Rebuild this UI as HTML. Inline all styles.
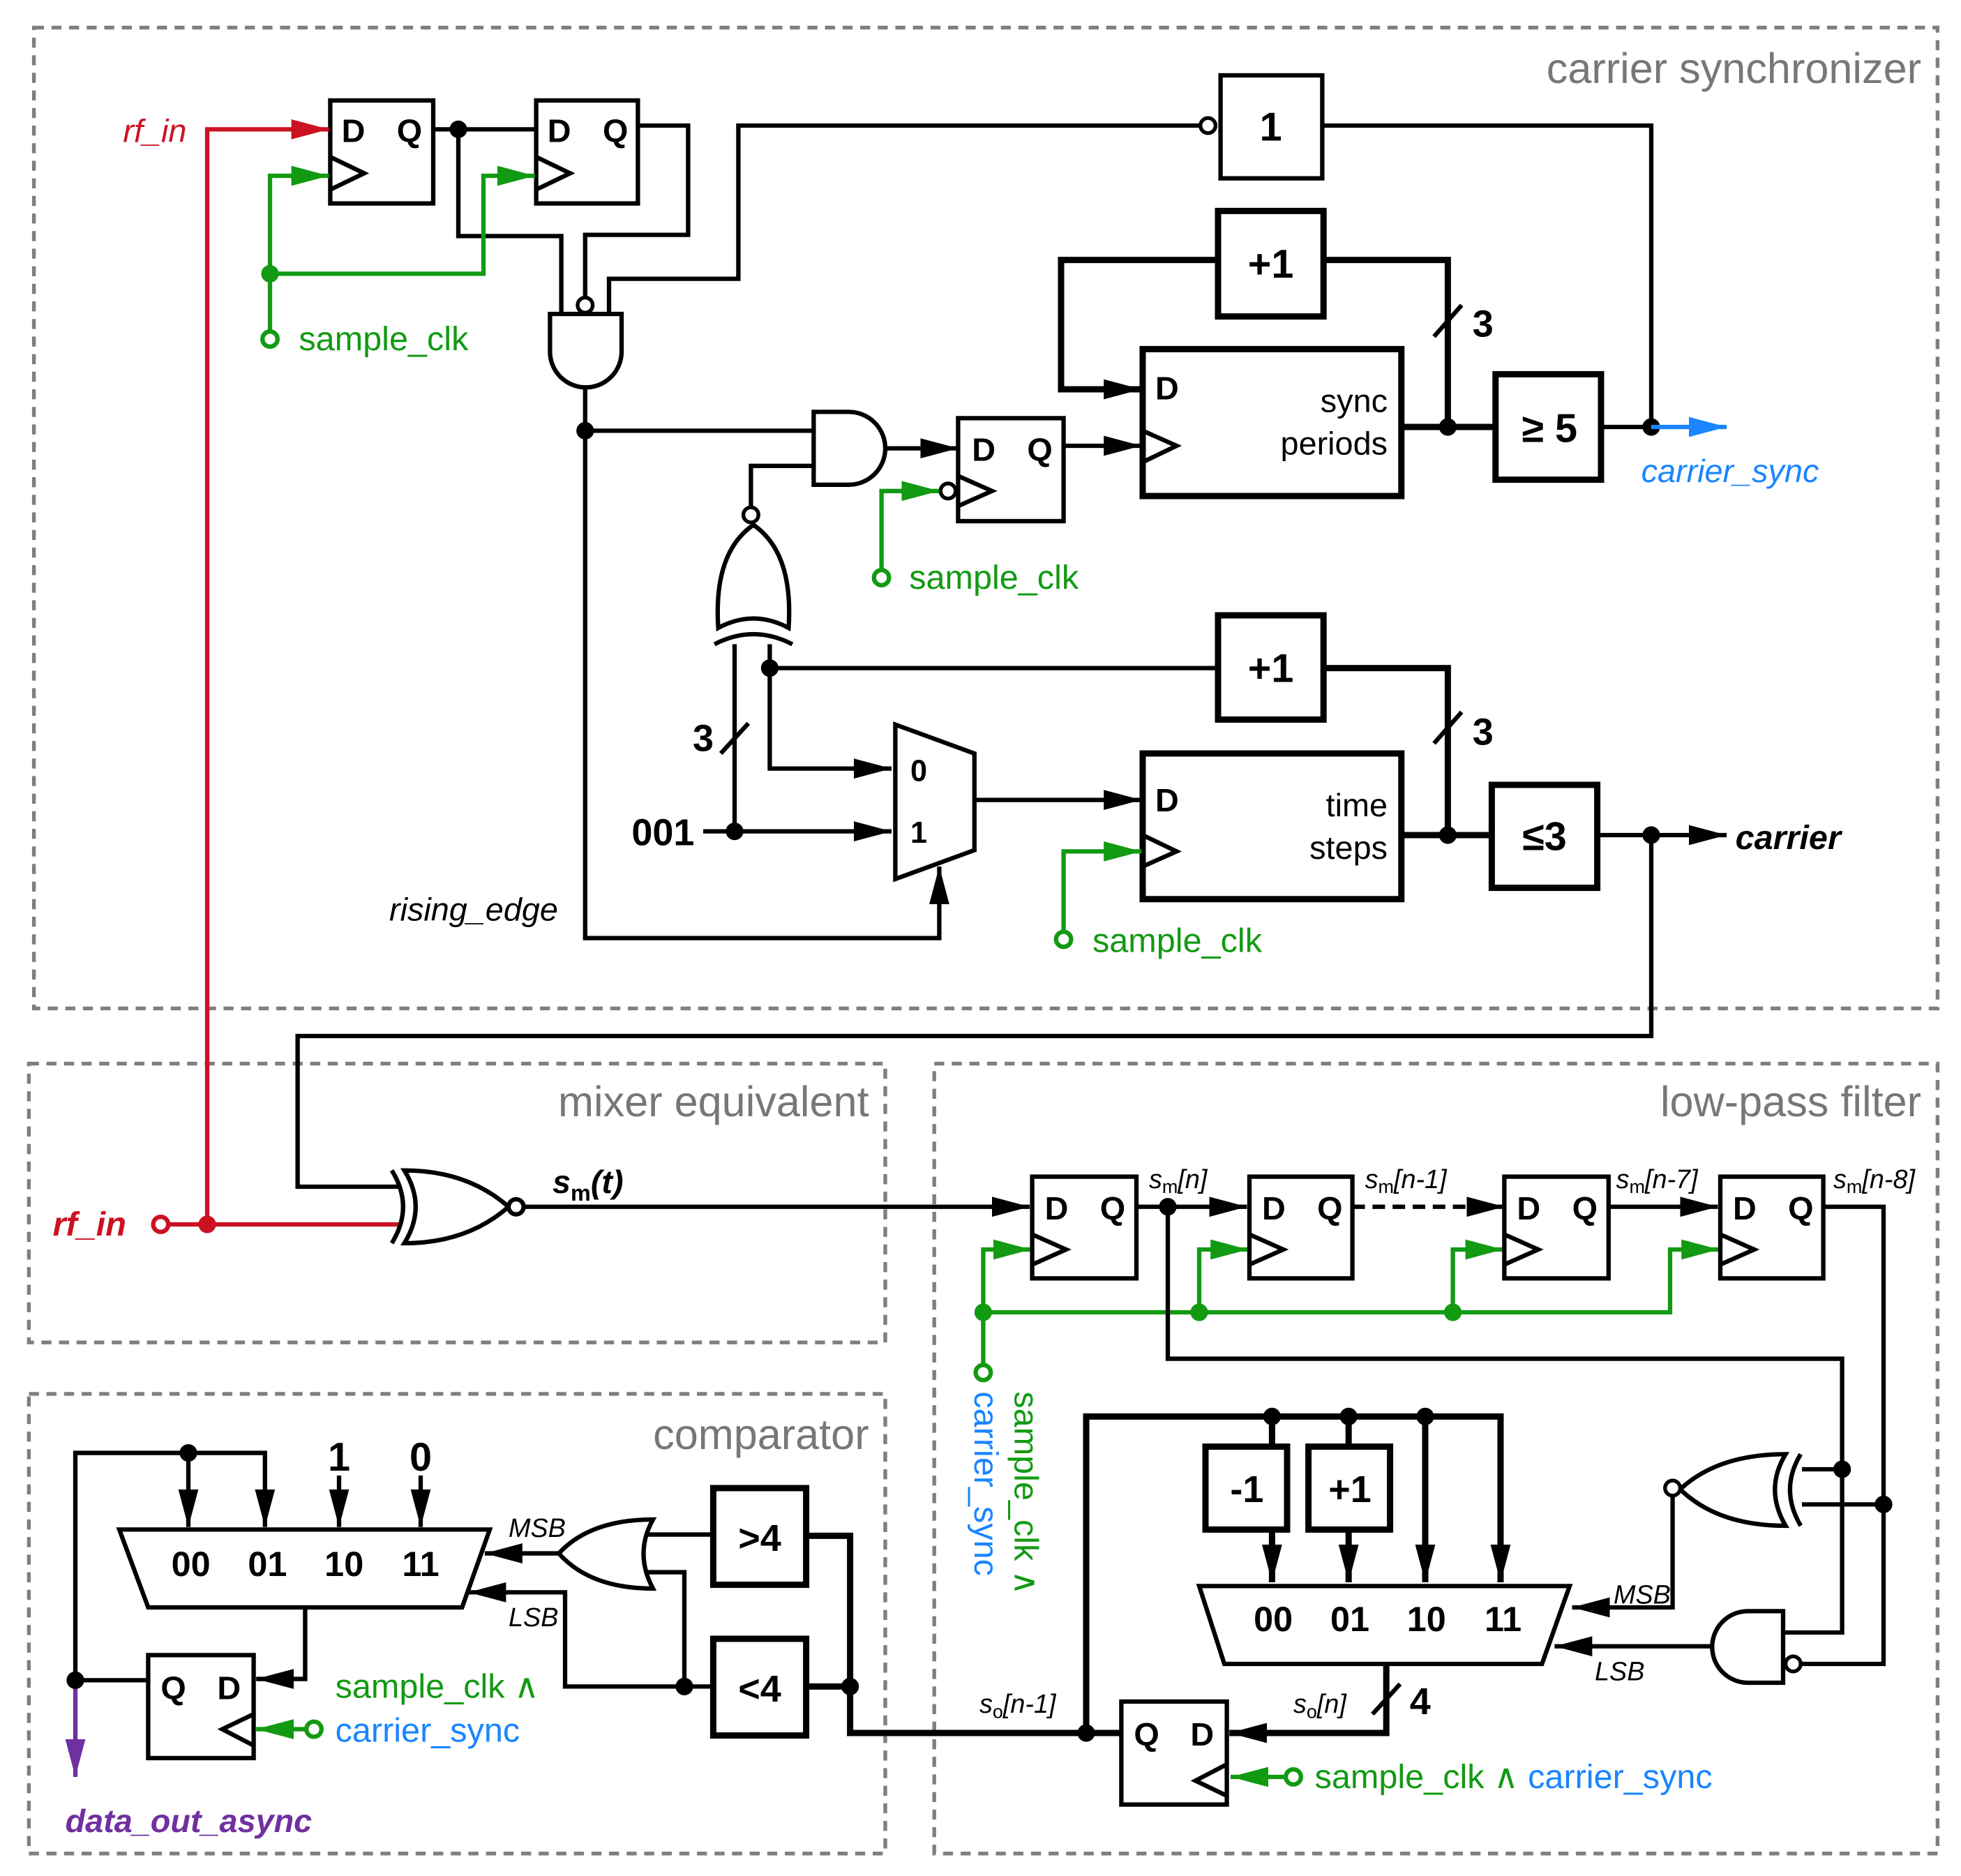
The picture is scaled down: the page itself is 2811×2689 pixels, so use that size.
<!DOCTYPE html>
<html><head><meta charset="utf-8"><style>
html,body{margin:0;padding:0;background:#fff}
svg{display:block}
text{font-family:"Liberation Sans",sans-serif}
</style></head><body>
<svg width="2811" height="2689" viewBox="0 0 1561.67 1493.9" xmlns="http://www.w3.org/2000/svg">
<defs>
<marker id="ar" viewBox="0 0 30 30" refX="30" refY="15" markerWidth="30" markerHeight="30" markerUnits="userSpaceOnUse" orient="auto"><path d="M0,7 L30,15 L0,23 Z" fill="#cc1122"/></marker>
<marker id="ag" viewBox="0 0 30 30" refX="30" refY="15" markerWidth="30" markerHeight="30" markerUnits="userSpaceOnUse" orient="auto"><path d="M0,7 L30,15 L0,23 Z" fill="#129a12"/></marker>
<marker id="ab" viewBox="0 0 30 30" refX="30" refY="15" markerWidth="30" markerHeight="30" markerUnits="userSpaceOnUse" orient="auto"><path d="M0,7 L30,15 L0,23 Z" fill="#1a85ff"/></marker>
<marker id="ap" viewBox="0 0 30 30" refX="30" refY="15" markerWidth="30" markerHeight="30" markerUnits="userSpaceOnUse" orient="auto"><path d="M0,7 L30,15 L0,23 Z" fill="#7030a0"/></marker>
<marker id="a" viewBox="0 0 30 30" refX="30" refY="15" markerWidth="30" markerHeight="30" markerUnits="userSpaceOnUse" orient="auto"><path d="M0,7 L30,15 L0,23 Z" fill="#000"/></marker>
</defs>

<g fill="none" stroke="#7f7f7f" stroke-width="3" stroke-dasharray="8,6">
<rect x="27" y="22" width="1516" height="781"/>
<rect x="23" y="847" width="682" height="222"/>
<rect x="744" y="847" width="799" height="629"/>
<rect x="23" y="1110" width="682" height="366"/>
</g>
<g fill="#777" font-size="34" text-anchor="end">
<text x="1530" y="66">carrier synchronizer</text>
<text x="692" y="889">mixer equivalent</text>
<text x="1530" y="889">low-pass filter</text>
<text x="692" y="1154">comparator</text>
</g>

<g fill="none" stroke="#000" stroke-width="3.5">
<rect x="263" y="80" width="82" height="82"/>
<rect x="427" y="80" width="81" height="82"/>
<path d="M263,125 L290,138 L263,151"/>
<path d="M427,125 L454,138 L427,151"/>
<path d="M345,103 H427"/>
<path d="M365,103 V188 H447 V250"/>
<path d="M508,100 H548 V187 H466 V236"/>
<path d="M485,250 V222 H588 V100 H955"/>
<path d="M438,250 H495 V280 A28.5,28.5 0 0 1 438,280 Z" fill="#fff"/>
<rect x="972" y="60" width="81" height="82"/>
<path d="M1053,100 H1315 V340"/>
<path d="M466,309 V747 H748 V690" marker-end="url(#a)"/>
<path d="M466,343 H648"/>
<path d="M648,328 H676 A29,29 0 0 1 676,386 H648 Z"/>
<path d="M705,357 H763" marker-end="url(#a)"/>
<rect x="763" y="333" width="84" height="82"/>
<path d="M763,379 L790,391 L763,403"/>
<path d="M847,355 H909" marker-end="url(#a)"/>
<path d="M648,371 H598 V403"/>
<path d="M572,500 Q600,485 628,500 Q632,440 600,418 Q568,440 572,500 Z"/>
<path d="M569,513 Q600,497 631,513"/>
</g>
<g fill="none" stroke="#000" stroke-width="5">
<rect x="910" y="278" width="206" height="117"/>
<rect x="970" y="168" width="84" height="84"/>
<path d="M1116,340 H1191"/>
<path d="M1153,340 V207 H1054"/>
<path d="M970,207 H845 V310 H909" marker-end="url(#a)"/>
<rect x="1191" y="298" width="84" height="84"/>
<path d="M1142,268 L1164,243" stroke-width="3.5"/>
<rect x="910" y="600" width="206" height="116"/>
<rect x="970" y="490" width="84" height="83"/>
<path d="M1054,532 H1153 V665"/>
<path d="M1116,665 H1188"/>
<path d="M1142,592 L1164,567" stroke-width="3.5"/>
<rect x="1188" y="625" width="84" height="82"/>
</g>
<g fill="none" stroke="#000" stroke-width="3.5">
<path d="M910,343 L937,355 L910,368"/>
<path d="M910,665 L937,678 L910,690"/>
<path d="M1275,340 H1315"/>
<path d="M1272,665 H1375" marker-end="url(#a)"/>
<path d="M1315,665 V825 H237 V945 H318"/>
<path d="M613,513 V612 H710" marker-end="url(#a)"/>
<path d="M613,532 H970"/>
<path d="M585,513 V662"/>
<path d="M574,600 L596,576"/>
<path d="M560,662 H710" marker-end="url(#a)"/>
<path d="M713,577 L776,600 L776,677 L713,700 Z"/>
<path d="M776,637 H909" marker-end="url(#a)"/>
</g>
<g fill="#fff" stroke="#000" stroke-width="3">
<circle cx="466" cy="243" r="6"/>
<circle cx="962" cy="100" r="6"/>
<circle cx="598" cy="410" r="6"/>
<circle cx="755" cy="391" r="6"/>
</g>
<g fill="#000">
<circle cx="365" cy="103" r="7"/><circle cx="466" cy="343" r="7"/>
<circle cx="1153" cy="340" r="7"/><circle cx="1315" cy="340" r="7"/>
<circle cx="613" cy="532" r="7"/><circle cx="585" cy="662" r="7"/>
<circle cx="1153" cy="665" r="7"/><circle cx="1315" cy="665" r="7"/>
</g>
<g font-size="26" font-weight="bold">
<text x="272" y="113">D</text><text x="316" y="113">Q</text>
<text x="436" y="113">D</text><text x="480" y="113">Q</text>
<text x="774" y="367">D</text><text x="818" y="367">Q</text>
<text x="920" y="318">D</text><text x="920" y="646">D</text>
<text x="725" y="622" font-size="24">0</text><text x="725" y="671" font-size="24">1</text>
</g>
<g font-size="32" font-weight="bold" text-anchor="middle">
<text x="1012" y="112">1</text>
<text x="1012" y="221">+1</text>
<text x="1012" y="543">+1</text>
<text x="1234" y="352">≥ 5</text>
<text x="1230" y="677">≤3</text>
<text x="1181" y="268" font-size="30">3</text>
<text x="1181" y="593" font-size="30">3</text>
<text x="560" y="598" font-size="30">3</text>
<text x="528" y="673" font-size="30">001</text>
</g>
<g font-size="26" text-anchor="end">
<text x="1105" y="328">sync</text><text x="1105" y="362">periods</text>
<text x="1105" y="650">time</text><text x="1105" y="684">steps</text>
</g>
<text x="310" y="733" font-size="26" font-style="italic">rising_edge</text>
<text x="1382" y="676" font-size="27" font-style="italic" font-weight="bold">carrier</text>
<path d="M1315,340 H1375" stroke="#1a85ff" stroke-width="3.5" fill="none" marker-end="url(#ab)"/>
<text x="1307" y="384" font-size="26" font-style="italic" fill="#1a85ff">carrier_sync</text>

<g stroke="#cc1122" stroke-width="3.5" fill="none">
<path d="M165,975 V103 H262" marker-end="url(#ar)"/>
<path d="M134,975 H318"/>
<circle cx="128" cy="975" r="6" fill="#fff"/>
</g>
<circle cx="165" cy="975" r="7" fill="#cc1122"/>
<text x="98" y="113" font-size="26" font-style="italic" fill="#cc1122">rf_in</text>
<text x="42" y="984" font-size="27" font-style="italic" font-weight="bold" fill="#cc1122">rf_in</text>

<g stroke="#129a12" stroke-width="3.5" fill="none">
<path d="M215,264 V140 H262" marker-end="url(#ag)"/>
<path d="M215,218 H385 V140 H426" marker-end="url(#ag)"/>
<circle cx="215" cy="270" r="6" fill="#fff"/>
<path d="M702,454 V391 H748" marker-end="url(#ag)"/>
<circle cx="702" cy="460" r="6" fill="#fff"/>
<path d="M847,742 V678 H909" marker-end="url(#ag)"/>
<circle cx="847" cy="748" r="6" fill="#fff"/>
<path d="M783,1087 V995 H821" marker-end="url(#ag)"/>
<path d="M783,1045 H1330 V995 H1369" marker-end="url(#ag)"/>
<path d="M955,1045 V995 H994" marker-end="url(#ag)"/>
<path d="M1157,1045 V995 H1197" marker-end="url(#ag)"/>
<circle cx="783" cy="1093" r="6" fill="#fff"/>
<path d="M1024,1415 H980" marker-end="url(#ag)"/>
<circle cx="1030" cy="1415" r="6" fill="#fff"/>
<path d="M244,1377 H204" marker-end="url(#ag)"/>
<circle cx="250" cy="1377" r="6" fill="#fff"/>
</g>
<g fill="#129a12">
<circle cx="215" cy="218" r="7"/>
<circle cx="783" cy="1045" r="7"/><circle cx="955" cy="1045" r="7"/><circle cx="1157" cy="1045" r="7"/>
</g>
<g font-size="27" fill="#129a12">
<text x="238" y="279">sample_clk</text>
<text x="724" y="469">sample_clk</text>
<text x="870" y="758">sample_clk</text>
<text x="267" y="1352">sample_clk ∧</text>
<text x="1047" y="1424">sample_clk ∧ <tspan fill="#1a85ff">carrier_sync</tspan></text>
<text x="267" y="1387" fill="#1a85ff">carrier_sync</text>
<text transform="translate(808,1108) rotate(90)">sample_clk ∧</text>
<text transform="translate(776,1108) rotate(90)" fill="#1a85ff">carrier_sync</text>
</g>

<g fill="none" stroke="#000" stroke-width="3.5">
<path d="M322,932 Q340,961 322,990 Q372,990 405,961 Q372,932 322,932 Z"/>
<path d="M312,932 Q330,961 312,990"/>
<path d="M417,961 H820" marker-end="url(#a)"/>
<circle cx="411" cy="961" r="6" fill="#fff"/>
</g>
<text x="440" y="950" font-size="26" font-weight="bold" font-style="italic">s<tspan font-size="18" dy="6" font-style="normal">m</tspan><tspan dy="-6">(t)</tspan></text>

<g fill="none" stroke="#000" stroke-width="3.5">
<rect x="822" y="937" width="83" height="81"/>
<rect x="995" y="937" width="82" height="81"/>
<rect x="1198" y="937" width="83" height="81"/>
<rect x="1370" y="937" width="82" height="81"/>
<path d="M822,983 L849,995 L822,1007"/>
<path d="M995,983 L1022,995 L995,1007"/>
<path d="M1198,983 L1225,995 L1198,1007"/>
<path d="M1370,983 L1397,995 L1370,1007"/>
<path d="M905,961 H993" marker-end="url(#a)"/>
<path d="M1077,961 H1198" stroke-dasharray="10,6" marker-end="url(#a)"/>
<path d="M1281,961 H1368" marker-end="url(#a)"/>
<path d="M1452,961 H1500 V1325 H1434"/>
<path d="M930,961 V1082 H1467 V1300 H1420"/>
<path d="M1467,1170 H1435"/>
<path d="M1500,1198 H1435"/>
<path d="M1422,1158 Q1405,1186 1422,1215 Q1368,1215 1338,1186 Q1368,1158 1422,1158 Z"/>
<path d="M1434,1158 Q1417,1186 1434,1215"/>
<path d="M1332,1191 V1280 H1252" marker-end="url(#a)"/>
<path d="M1420,1283 H1392 A28.5,28.5 0 0 0 1392,1340 H1420 Z"/>
<path d="M1363,1311 H1238" marker-end="url(#a)"/>
<path d="M955,1263 H1250 L1228,1325 H975 Z"/>
<rect x="893" y="1355" width="84" height="82"/>
<path d="M977,1405 L952,1418 L977,1430"/>
</g>
<g fill="#fff" stroke="#000" stroke-width="3">
<circle cx="1332" cy="1185" r="6"/><circle cx="1428" cy="1325" r="6"/>
</g>
<g fill="none" stroke="#000" stroke-width="5">
<path d="M865,1380 V1128 H1195 V1260" marker-end="url(#a)"/>
<path d="M1135,1128 V1260" marker-end="url(#a)"/>
<path d="M1013,1128 V1152 M1074,1128 V1152"/>
<rect x="960" y="1152" width="65" height="66"/>
<rect x="1042" y="1152" width="65" height="66"/>
<path d="M1013,1218 V1260" marker-end="url(#a)"/>
<path d="M1074,1218 V1260" marker-end="url(#a)"/>
<path d="M1104,1325 V1380 H979" marker-end="url(#a)"/>
<path d="M893,1380 H677 V1223 H642"/>
<path d="M677,1343 H642"/>
</g>
<path d="M1093,1365 L1115,1341" stroke="#000" stroke-width="3.5"/>
<g fill="#000">
<circle cx="930" cy="961" r="7"/><circle cx="1467" cy="1170" r="7"/><circle cx="1500" cy="1198" r="7"/>
<circle cx="1013" cy="1128" r="7"/><circle cx="1074" cy="1128" r="7"/><circle cx="1135" cy="1128" r="7"/>
<circle cx="865" cy="1380" r="7"/><circle cx="677" cy="1343" r="7"/>
</g>
<g font-size="26" font-weight="bold">
<text x="832" y="971">D</text><text x="876" y="971">Q</text>
<text x="1005" y="971">D</text><text x="1049" y="971">Q</text>
<text x="1208" y="971">D</text><text x="1252" y="971">Q</text>
<text x="1380" y="971">D</text><text x="1424" y="971">Q</text>
<text x="903" y="1390">Q</text><text x="948" y="1390">D</text>
</g>
<g font-size="28" font-weight="bold" text-anchor="middle">
<text x="1014" y="1299">00</text><text x="1075" y="1299">01</text><text x="1136" y="1299">10</text><text x="1197" y="1299">11</text>
<text x="993" y="1196" font-size="30">-1</text><text x="1075" y="1196" font-size="30">+1</text>
<text x="1131" y="1365" font-size="30">4</text>
</g>
<g font-size="21" font-style="italic">
<text x="915" y="946">s<tspan font-size="15" dy="4" font-style="normal">m</tspan><tspan dy="-4">[n]</tspan></text>
<text x="1087" y="946">s<tspan font-size="15" dy="4" font-style="normal">m</tspan><tspan dy="-4">[n-1]</tspan></text>
<text x="1287" y="946">s<tspan font-size="15" dy="4" font-style="normal">m</tspan><tspan dy="-4">[n-7]</tspan></text>
<text x="1460" y="946">s<tspan font-size="15" dy="4" font-style="normal">m</tspan><tspan dy="-4">[n-8]</tspan></text>
<text x="1030" y="1364">s<tspan font-size="15" dy="4" font-style="normal">o</tspan><tspan dy="-4">[n]</tspan></text>
<text x="780" y="1364">s<tspan font-size="15" dy="4" font-style="normal">o</tspan><tspan dy="-4">[n-1]</tspan></text>
<text x="1285" y="1277">MSB</text><text x="1270" y="1338">LSB</text>
<text x="405" y="1224">MSB</text><text x="405" y="1295">LSB</text>
</g>

<g fill="none" stroke="#000" stroke-width="5">
<rect x="568" y="1185" width="74" height="77"/>
<rect x="568" y="1305" width="74" height="77"/>
</g>
<g fill="none" stroke="#000" stroke-width="3.5">
<path d="M568,1222 H515"/>
<path d="M568,1343 H450 V1268 H373" marker-end="url(#a)"/>
<path d="M545,1343 V1252 H515"/>
<path d="M520,1210 Q505,1237 520,1265 Q470,1265 445,1237 Q470,1210 520,1210 Z"/>
<path d="M445,1237 H386" marker-end="url(#a)"/>
<path d="M95,1218 H390 L368,1280 H118 Z"/>
<path d="M60,1338 V1157 H211 V1216" marker-end="url(#a)"/>
<path d="M150,1157 V1216" marker-end="url(#a)"/>
<path d="M270,1175 V1216" marker-end="url(#a)"/>
<path d="M335,1175 V1216" marker-end="url(#a)"/>
<path d="M243,1280 V1337 H204" marker-end="url(#a)"/>
<rect x="118" y="1318" width="84" height="82"/>
<path d="M202,1365 L177,1377 L202,1390"/>
<path d="M118,1338 H60"/>
</g>
<path d="M60,1338 V1415" stroke="#7030a0" stroke-width="3.5" fill="none" marker-end="url(#ap)"/>
<g fill="#000"><circle cx="545" cy="1343" r="7"/><circle cx="150" cy="1157" r="7"/><circle cx="60" cy="1338" r="7"/></g>
<g font-size="28" font-weight="bold" text-anchor="middle">
<text x="152" y="1255">00</text><text x="213" y="1255">01</text><text x="274" y="1255">10</text><text x="335" y="1255">11</text>
<text x="270" y="1171" font-size="32">1</text><text x="335" y="1171" font-size="32">0</text>
<text x="605" y="1235" font-size="30">&gt;4</text><text x="605" y="1355" font-size="30">&lt;4</text>
</g>
<g font-size="26" font-weight="bold"><text x="128" y="1353">Q</text><text x="173" y="1353">D</text></g>
<text x="52" y="1459" font-size="26" font-style="italic" font-weight="bold" fill="#7030a0">data_out_async</text>
</svg>
</body></html>
